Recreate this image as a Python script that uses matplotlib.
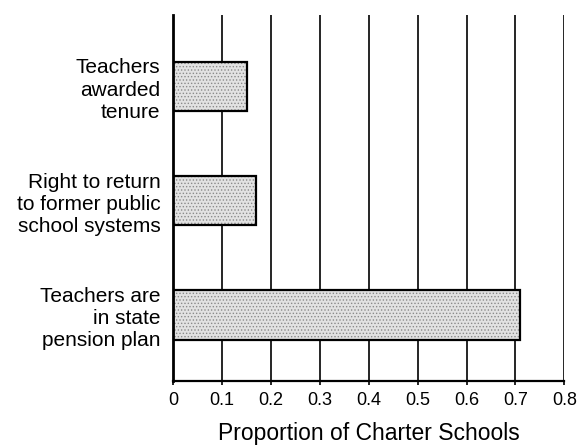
import matplotlib
matplotlib.use("Agg")
import matplotlib.pyplot as plt

categories = ["Teachers are\nin state\npension plan",
              "Right to return\nto former public\nschool systems",
              "Teachers\nawarded\ntenure"]
values = [0.71, 0.17, 0.152]
xticks = [0, 0.1, 0.2, 0.3, 0.4, 0.5, 0.6, 0.7, 0.8]
xticklabels = ["0", "0.1", "0.2", "0.3", "0.4", "0.5", "0.6", "0.7", "0.8"]
xlabel = "Proportion of Charter Schools"

plt.rcParams['font.family'] = ['Liberation Sans', 'DejaVu Sans']
plt.rcParams['hatch.linewidth'] = 0.6

fig = plt.figure(figsize=(5.8, 4.45), dpi=100)
ax = fig.add_axes([0.2983, 0.1438, 0.6747, 0.8225])

pos = list(range(len(categories)))
ax.set_axisbelow(False)
for x in xticks[1:]:
    ax.axvline(x, color='black', lw=1.2, zorder=1)

ax.barh(pos, values, height=0.43, color='#e2e2e2', edgecolor='#8a8a8a',
        hatch='.....', linewidth=0, zorder=2)
ax.barh(pos, values, height=0.43, facecolor='none', edgecolor='black',
        linewidth=1.6, zorder=3)

ax.set_xlim(0, 0.8)
ax.set_ylim(-0.578, 2.626)
ax.set_xticks(xticks)
ax.set_xticklabels(xticklabels, fontsize=13)
ax.set_yticks(pos)
ax.set_yticklabels(categories, fontsize=15, linespacing=1.22, ha='right')
ax.tick_params(axis='y', length=0, pad=9)
ax.tick_params(axis='x', length=3, width=1.2, direction='out', pad=5)
ax.set_xlabel(xlabel, fontsize=16.5, labelpad=9)

for s in ['top', 'right']:
    ax.spines[s].set_visible(False)
ax.spines['left'].set_linewidth(2)
ax.spines['bottom'].set_linewidth(1.6)
ax.spines['left'].set_zorder(5)

fig.savefig("out.png", dpi=100)
